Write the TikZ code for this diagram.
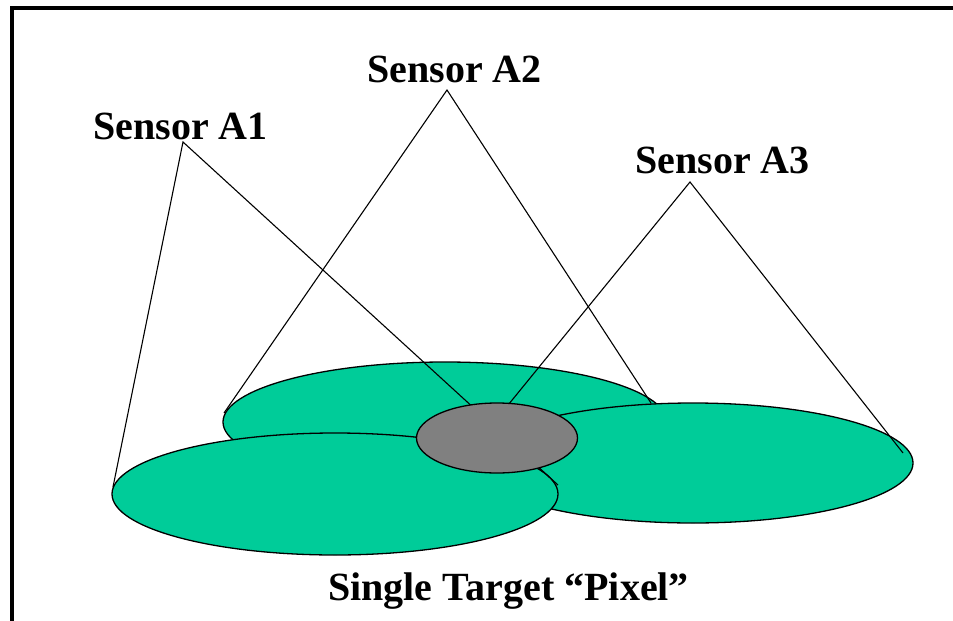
\documentclass[tikz,border=0pt]{standalone}
\usepackage{fontspec}
\setmainfont{Liberation Serif}
\usetikzlibrary{shapes.geometric}
\definecolor{footgreen}{HTML}{00CC99}
\definecolor{pixelgray}{HTML}{808080}
\tikzset{
  footprint/.style={ellipse, draw=black, line width=1.3pt, fill=footgreen, inner sep=0pt},
  pixelspot/.style={ellipse, draw=black, line width=1.3pt, fill=pixelgray, inner sep=0pt},
  beam/.style={draw=black, line width=1.1pt},
  frameline/.style={draw=black, line width=4.5pt},
  label/.style={inner sep=0pt, anchor=base west, font=\fontsize{40}{48}\selectfont\bfseries}
}
\begin{document}
\begin{tikzpicture}[x=1pt, y=-1pt]
  \useasboundingbox (0,0) rectangle (953,621);

  % frame
  \draw[frameline] (12,625) -- (12,8) -- (960,8);

  % sensor labels
  \node[label] (s1) at (93,139) {Sensor A1};
  \node[label] (s2) at (367,82) {Sensor A2};
  \node[label] (s3) at (635,173) {Sensor A3};

  % beam apexes
  \coordinate (p1) at (183,142);
  \coordinate (p2) at (447,90);
  \coordinate (p3) at (690,182);

  % ground footprints
  \node[footprint, minimum width=444pt, minimum height=120pt] (f2) at (445,422) {};
  \node[footprint, minimum width=440pt, minimum height=120pt] (f3) at (693,463) {};
  \node[footprint, minimum width=446pt, minimum height=122pt] (f1) at (335,494) {};

  % beam edge end points
  \coordinate (e1l) at (113,487);
  \coordinate (e1r) at (558,485);
  \coordinate (e2l) at (224,413);
  \coordinate (e2r) at (651,403);
  \coordinate (e3l) at (504,410);
  \coordinate (e3r) at (903,453);

  % beams
  \draw[beam] (e1l) -- (p1) -- (e1r);
  \draw[beam] (e2l) -- (p2) -- (e2r);
  \draw[beam] (e3l) -- (p3) -- (e3r);

  % common target pixel
  \node[pixelspot, minimum width=161pt, minimum height=70pt] (px) at (497,438) {};

  \node[label] (cap) at (328,600) {Single Target “Pixel”};
\end{tikzpicture}
\end{document}
